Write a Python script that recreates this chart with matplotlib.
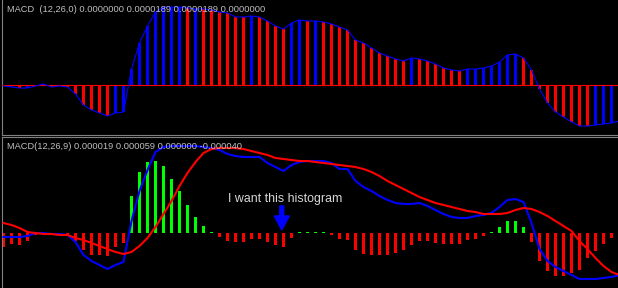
import numpy as np
import matplotlib
matplotlib.use('Agg')
import matplotlib.pyplot as plt

# MACD (12,26,0) histogram, top pane (pixel-like units above the zero line)
top_hist = [-1, -2, -3, -3, -1, 1, -2, -1, -2, -9, -20, -25, -28, -31, -28, -27,
            16, 42, 59, 73, 78, 78, 78, 77, 76, 76, 75, 73, 72, 68, 68, 69, 68, 64, 59, 56, 62, 65, 64,
            64, 63, 61, 58, 55, 45, 42, 37, 32, 29, 26, 24, 27, 26, 24, 21, 17, 15, 14,
            16, 16, 17, 19, 23, 30, 31, 27, 15, -4, -18, -27, -32, -37, -41, -41, -40, -39, -38, -36]
top_colors = list("rbrbbbrbrrrrrrbb" "bbbbbbbrbrrrrrrbrrrrbbr" "brrrrrrrrrrrbrrrrr" "r"
                  "bbbbbbbrrrrrrrrrbbbb")

# MACD (12,26,9) pane
hist = [-14, -11, -12, -8, -2, 1, -1, -1, -2, -8, -17, -22, -22, -23, -14, -10,
        37, 61, 71, 72, 67, 54, 42, 28, 16, 7, 1,
        -4, -8, -9, -9, -6, -6, -9, -12, -14, -5, 1, 1, 1, 1,
        -2, -6, -7, -17, -21, -22, -22, -22, -20, -17, -12, -8, -8, -10, -11, -11, -11, -7, -6, -3,
        1, 6, 12, 12, 6, -9, -28, -38, -43, -43, -40, -37, -25, -18, -11, -5, -3]
macd = [-4, -4, -4, -3, 0, 0, -1, -1, -2, -9, -22, -28, -32, -36, -32, -29,
        12, 42, 63, 81, 86, 87, 87, 87, 87, 86, 85, 83, 79, 77, 76, 76, 76, 70, 66, 62, 68, 71, 72,
        72, 72, 70, 64, 64, 52, 46, 42, 37, 33, 30, 29, 29, 30, 27, 23, 19, 16, 15,
        15, 17, 18, 20, 26, 33, 34, 31, 10, -16, -28, -34, -38, -42, -46, -46, -46, -45, -44, -42]
signal = [10, 8, 5, 1, 0, -1, -1, -2, -2, -5, -7, -10, -13, -16, -19, -21,
          -19, -13, -5, 6, 19, 32, 47, 60, 71, 80, 84, 85, 85, 85, 84, 82, 80, 78, 75, 74, 73, 72, 72,
          71, 70, 69, 68, 67, 66, 64, 61, 57, 52, 48, 44, 40, 36, 33, 30, 28, 26, 24,
          22, 21, 19, 19, 19, 20, 23, 25, 24, 21, 17, 12, 7, 2, -8, -16, -25, -33, -39, -42]

top_label = "MACD  (12,26,0) 0.0000000 0.0000189 0.0000189 0.0000000"
bottom_label = "MACD(12,26,9) 0.000019 0.000059 0.000000 -0.000040"
note = "I want this histogram"

x = np.arange(len(hist))
W, H = 618, 288
fig = plt.figure(figsize=(W / 100, H / 100), dpi=100, facecolor='black')

ax1 = fig.add_axes([2 / W, (H - 135) / H, (W - 2) / W, 135 / H])
ax2 = fig.add_axes([2 / W, 0, (W - 2) / W, 151 / H])

cmap = {'r': '#ff0000', 'b': '#0000ff'}
ax1.bar(x, top_hist, width=0.42, color=[cmap[c] for c in top_colors], zorder=2)
ax1.axhline(0, color='#ff0000', lw=0.8, zorder=3)
ax1.plot(x, top_hist, color='#0000ff', lw=0.8, zorder=4)
ax1.set_ylim(-50, 85)

hist_colors = ['#00ff00' if v > 0 else '#ff0000' for v in hist]
ax2.bar(x, hist, width=0.42, color=hist_colors, zorder=2)
ax2.plot(x, macd, color='#0000ff', lw=1.5, zorder=3)
ax2.plot(x, signal, color='#ff0000', lw=1.5, zorder=4)
ax2.set_ylim(-55, 96)

ax2.text(28.06, 31.3, note, color='#d8d8d8', fontsize=8.9, family='Liberation Sans',
         ha='left', va='baseline', zorder=6)
ax2.annotate('', xy=(34.78, 3), xytext=(34.78, 27),
             arrowprops=dict(arrowstyle='simple,head_length=1.4,head_width=1.5,tail_width=0.4',
                             color='#0000ff', mutation_scale=7.2, shrinkA=0, shrinkB=0),
             zorder=6)

for ax in (ax1, ax2):
    ax.set_facecolor('black')
    ax.set_xlim(-0.1875, 76.8125)
    ax.set_xticks([])
    ax.set_yticks([])
    for s in ax.spines.values():
        s.set_visible(False)
    ax.spines['left'].set_visible(True)
    ax.spines['left'].set_color('#808080')
    ax.spines['left'].set_linewidth(0.8)

ax1.spines['bottom'].set_visible(True)
ax1.spines['bottom'].set_color('#808080')
ax1.spines['bottom'].set_linewidth(0.8)
ax2.spines['top'].set_visible(True)
ax2.spines['top'].set_color('#808080')
ax2.spines['top'].set_linewidth(0.8)

fig.text(7 / W, 1 - 9.7 / H, top_label, color='#c0c0c0', fontsize=6.67,
         family='Liberation Sans', ha='left', va='center', zorder=10)
fig.text(7 / W, 1 - 146.7 / H, bottom_label, color='#c0c0c0', fontsize=6.67,
         family='Liberation Sans', ha='left', va='center', zorder=10)

fig.savefig('out.png', dpi=100, facecolor='black')
